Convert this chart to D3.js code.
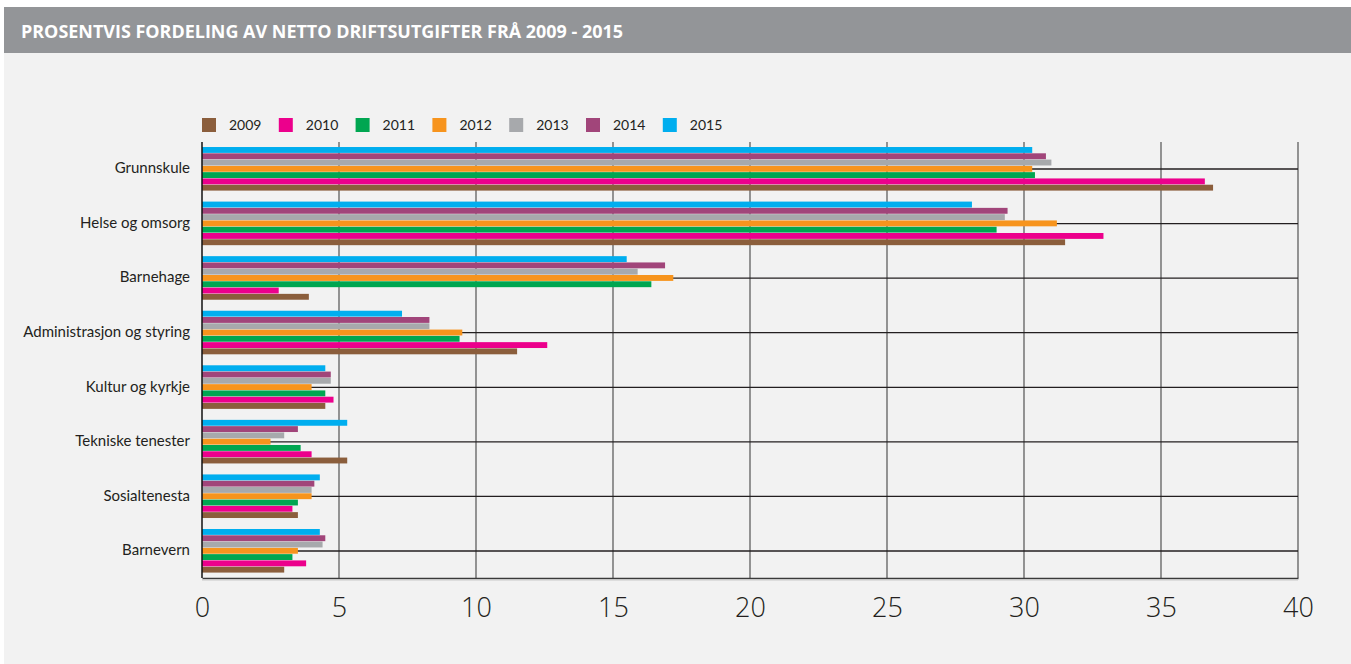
<!DOCTYPE html>
<html>
<head>
<meta charset="utf-8">
<script src="https://cdn.jsdelivr.net/npm/d3@7"></script>
<style>
  html, body { margin: 0; padding: 0; background: #fff; }
  svg { display: block; }
</style>
</head>
<body>
<svg id="vis" width="1351" height="664"></svg>
<script>
// Data
const categories = ['Grunnskule', 'Helse og omsorg', 'Barnehage', 'Administrasjon og styring',
  'Kultur og kyrkje', 'Tekniske tenester', 'Sosialtenesta', 'Barnevern'];
const years = ['2009', '2010', '2011', '2012', '2013', '2014', '2015'];
const colors = ['#8b5e3c', '#ec008c', '#00a651', '#f7941d', '#a7a9ac', '#a1457a', '#00aeef'];

const v2009 = [36.9, 31.5, 3.9, 11.5, 4.5, 5.3, 3.5, 3.0];
const v2010 = [36.6, 32.9, 2.8, 12.6, 4.8, 4.0, 3.3, 3.8];
const v2011 = [30.4, 29.0, 16.4, 9.4, 4.5, 3.6, 3.5, 3.3];
const v2012 = [30.3, 31.2, 17.2, 9.5, 4.0, 2.5, 4.0, 3.5];
const v2013 = [31.0, 29.3, 15.9, 8.3, 4.7, 3.0, 4.0, 4.4];
const v2014 = [30.8, 29.4, 16.9, 8.3, 4.7, 3.5, 4.1, 4.5];
const v2015 = [30.3, 28.1, 15.5, 7.3, 4.5, 5.3, 4.3, 4.3];
const seriesValues = [v2009, v2010, v2011, v2012, v2013, v2014, v2015];

const xTicks = [0, 5, 10, 15, 20, 25, 30, 35, 40];

const title = 'PROSENTVIS FORDELING AV NETTO DRIFTSUTGIFTER FRÅ 2009 - 2015';

const svg = d3.select('#vis');
const W = 1351, H = 664;

// background panel and header band
svg.append('rect').attr('x', 4).attr('y', 53).attr('width', W - 4).attr('height', H - 53).attr('fill', '#f2f2f2');
svg.append('rect').attr('x', 4).attr('y', 7).attr('width', W - 4).attr('height', 46).attr('fill', '#939598');
svg.append('text')
  .attr('x', 21).attr('y', 38)
  .attr('fill', '#fff')
  .attr('textLength', 602)
  .attr('lengthAdjust', 'spacingAndGlyphs')
  .style('font-family', '"Open Sans", sans-serif')
  .style('font-weight', 700)
  .style('font-size', '17px')
  .text(title);

const margin = { left: 202, right: 1298, top: 142, bottom: 578 };

const x = d3.scaleLinear().domain([0, 40]).range([margin.left, margin.right]);
const y = d3.scaleBand().domain(categories).range([margin.top, margin.bottom])
  .paddingInner(0.194).paddingOuter(0.092);
// 2015 on top, 2009 at the bottom
const yInner = d3.scaleBand().domain(years.slice().reverse()).range([0, y.bandwidth()]).padding(0);

// vertical grid
svg.append('g').selectAll('line').data(xTicks.slice(1)).join('line')
  .attr('x1', d => x(d)).attr('x2', d => x(d))
  .attr('y1', margin.top).attr('y2', margin.bottom)
  .attr('stroke', '#7a7a7a').attr('stroke-width', 1.6);

// horizontal lines at category centres
svg.append('g').selectAll('line').data(categories).join('line')
  .attr('x1', margin.left).attr('x2', margin.right)
  .attr('y1', d => y(d) + y.bandwidth() / 2).attr('y2', d => y(d) + y.bandwidth() / 2)
  .attr('stroke', '#231f20').attr('stroke-width', 1.3);

// bars
const groups = svg.append('g').selectAll('g').data(categories).join('g')
  .attr('transform', d => `translate(0,${y(d)})`);

groups.selectAll('rect')
  .data((c, ci) => years.map((yr, yi) => ({ yr, yi, v: seriesValues[yi][ci] })))
  .join('rect')
  .attr('x', x(0))
  .attr('y', d => yInner(d.yr))
  .attr('width', d => x(d.v) - x(0))
  .attr('height', yInner.bandwidth() - 0.4)
  .attr('fill', d => colors[d.yi]);

// left axis line
svg.append('line')
  .attr('x1', x(0)).attr('x2', x(0)).attr('y1', margin.top).attr('y2', margin.bottom)
  .attr('stroke', '#111').attr('stroke-width', 1.5);

// bottom axis
const xAxis = svg.append('g')
  .attr('transform', `translate(0,${margin.bottom})`)
  .call(d3.axisBottom(x).tickValues(xTicks).tickSize(0).tickPadding(20));
xAxis.select('.domain').attr('stroke', '#3a3a3a').attr('stroke-width', 1.6);
xAxis.selectAll('text')
  .attr('fill', '#231f20')
  .style('font-family', '"Open Sans", sans-serif')
  .style('font-weight', 300)
  .style('font-size', '27px');
svg.append('line')
  .attr('x1', x(0)).attr('x2', x(40)).attr('y1', margin.bottom + 1.8).attr('y2', margin.bottom + 1.8)
  .attr('stroke', '#c8c8c8').attr('stroke-width', 1.2);

// category labels
svg.append('g').selectAll('text').data(categories).join('text')
  .attr('x', 190)
  .attr('y', d => y(d) + y.bandwidth() / 2 - 1)
  .attr('dy', '0.35em')
  .attr('text-anchor', 'end')
  .attr('fill', '#231f20')
  .style('font-family', 'Lato, sans-serif')
  .style('font-size', '15px')
  .text(d => d);

// legend
const legend = svg.append('g').selectAll('g').data(years).join('g')
  .attr('transform', (d, i) => `translate(${202 + i * 76.8},118)`);
legend.append('rect').attr('width', 14).attr('height', 14).attr('fill', (d, i) => colors[i]);
legend.append('text')
  .attr('x', 27).attr('y', 12)
  .attr('fill', '#231f20')
  .style('font-family', 'Lato, sans-serif')
  .style('font-size', '14px')
  .text(d => d);
</script>
</body>
</html>
